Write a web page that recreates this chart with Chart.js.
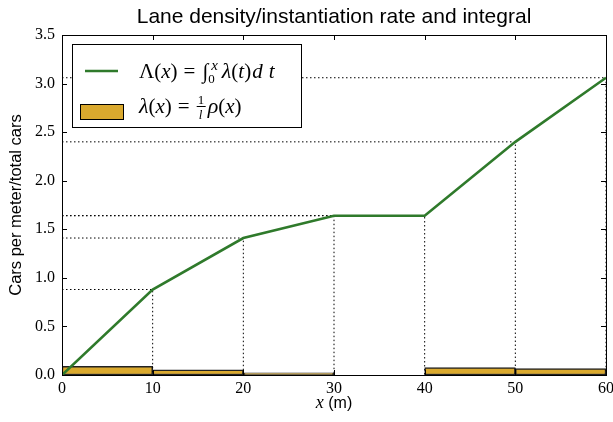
<!DOCTYPE html>
<html>
<head>
<meta charset="utf-8">
<script src="https://cdn.jsdelivr.net/npm/chart.js@4.4.1/dist/chart.umd.min.js"></script>
<style>
  html, body { margin: 0; padding: 0; background: #fff; }
</style>
</head>
<body>
<canvas id="chart" width="613" height="422"></canvas>
<script>
// integral curve, sampled at the bin edges
const xEdges = [0, 10, 20, 30, 40, 50, 60];
const integral = [0, 0.88, 1.41, 1.64, 1.64, 2.40, 3.06];
// per-bin rate (bars), centred in each 10 m bin
const binCenters = [5, 15, 25, 35, 45, 55];
const rate = [0.088, 0.053, 0.023, 0, 0.076, 0.066];
const xTicks = [0, 10, 20, 30, 40, 50, 60];
const yTicks = [0, 0.5, 1.0, 1.5, 2.0, 2.5, 3.0, 3.5];
const titleText = 'Lane density/instantiation rate and integral';
const yTitle = 'Cars per meter/total cars';

const green = '#2f7a2b';
const gold = '#daa92e';
const serif = '"Liberation Serif", "DejaVu Serif", serif';
const sans = '"Liberation Sans", Arial, sans-serif';

// dotted guide lines from each integral point back to both axes
const guides = xEdges.map((x, i) => ({
    type: 'line',
    data: [{ x: 0, y: integral[i] }, { x: x, y: integral[i] }, { x: x, y: 0 }],
    borderColor: '#000',
    borderWidth: 1,
    borderDash: [1.5, 2.5],
    pointRadius: 0,
    fill: false,
    tension: 0
})).filter((d, i) => xEdges[i] > 0);

// draw a row of text pieces with mixed italic/size
function drawRuns(ctx, x, y, runs) {
    for (const r of runs) {
        x += r.dx || 0;
        ctx.font = (r.it ? 'italic ' : '') + r.size + 'px ' + (r.font || serif);
        ctx.fillText(r.t, x, y + (r.dy || 0));
        if (r.adv !== false) x += ctx.measureText(r.t).width;
    }
    return x;
}

const decorations = {
    id: 'decorations',
    afterDatasetsDraw(chart) {
        const ctx = chart.ctx;
        const a = chart.chartArea;
        const xs = chart.scales.x, ys = chart.scales.y;
        ctx.save();
        ctx.strokeStyle = '#000';
        ctx.lineWidth = 1;

        // inward tick marks on all four sides
        ctx.beginPath();
        xTicks.forEach(v => {
            const p = Math.round(xs.getPixelForValue(v)) + 0.5;
            ctx.moveTo(p, a.bottom); ctx.lineTo(p, a.bottom - 5);
            ctx.moveTo(p, a.top); ctx.lineTo(p, a.top + 5);
        });
        yTicks.forEach(v => {
            const p = Math.round(ys.getPixelForValue(v)) + 0.5;
            ctx.moveTo(a.left, p); ctx.lineTo(a.left + 5, p);
            ctx.moveTo(a.right, p); ctx.lineTo(a.right - 5, p);
        });
        ctx.stroke();

        // frame
        ctx.strokeRect(Math.round(a.left) + 0.5, Math.round(a.top) + 0.5,
            Math.round(a.right - a.left), Math.round(a.bottom - a.top));

        // legend box
        const lx = 72, ly = 44, lw = 229, lh = 83;
        ctx.fillStyle = '#fff';
        ctx.fillRect(lx, ly, lw, lh);
        ctx.strokeRect(lx + 0.5, ly + 0.5, lw, lh);

        ctx.strokeStyle = green;
        ctx.lineWidth = 2.5;
        ctx.beginPath();
        ctx.moveTo(85, 71); ctx.lineTo(118, 71);
        ctx.stroke();

        ctx.fillStyle = gold;
        ctx.fillRect(80, 104, 43, 15);
        ctx.strokeStyle = '#000';
        ctx.lineWidth = 1;
        ctx.strokeRect(80.5, 104.5, 43, 15);

        ctx.fillStyle = '#000';
        ctx.textAlign = 'left';
        ctx.textBaseline = 'alphabetic';
        drawRuns(ctx, 139, 78, [
            { t: '\u039B(', size: 21 },
            { t: 'x', it: true, size: 21 },
            { t: ')', size: 21 },
            { t: '=', size: 21, dx: 6 },
            { t: '\u222B', size: 21, dx: 7 },
            { t: '0', size: 13, dy: 5, adv: false },
            { t: 'x', it: true, size: 15, dx: 3, dy: -8 },
            { t: '\u03BB', it: true, size: 22, dx: 4 },
            { t: '(', size: 21 },
            { t: 't', it: true, size: 21 },
            { t: ')', size: 21 },
            { t: 'd', it: true, size: 21, dx: 1 },
            { t: 't', it: true, size: 21, dx: 6 }
        ]);

        let fx = drawRuns(ctx, 139, 113, [
            { t: '\u03BB', it: true, size: 22 },
            { t: '(', size: 21 },
            { t: 'x', it: true, size: 21 },
            { t: ')', size: 21 },
            { t: '=', size: 21, dx: 6 }
        ]) + 7;
        // little fraction 1/l
        ctx.font = '13px ' + serif;
        ctx.fillText('1', fx + 1, 104);
        ctx.font = 'italic 13px ' + serif;
        ctx.fillText('l', fx + 2, 119);
        ctx.fillRect(fx, 106, 9, 1);
        drawRuns(ctx, fx + 11, 113, [
            { t: '\u03C1', it: true, size: 22 },
            { t: '(', size: 21 },
            { t: 'x', it: true, size: 21 },
            { t: ')', size: 21 }
        ]);

        const cx = (a.left + a.right) / 2;

        // title, centred over the axes
        ctx.textAlign = 'center';
        ctx.font = '21px ' + sans;
        ctx.fillText(titleText, cx, 23);

        // x axis title
        ctx.textAlign = 'left';
        ctx.font = 'italic 18px ' + serif;
        const w1 = ctx.measureText('x').width;
        ctx.font = '16px ' + sans;
        const w2 = ctx.measureText(' (m)').width;
        drawRuns(ctx, cx - (w1 + w2) / 2, 408, [
            { t: 'x', it: true, size: 18 },
            { t: ' (m)', size: 16, font: sans }
        ]);

        // y axis title
        ctx.translate(16, (a.top + a.bottom) / 2);
        ctx.rotate(-Math.PI / 2);
        ctx.textAlign = 'center';
        ctx.textBaseline = 'middle';
        ctx.font = '16.5px ' + sans;
        ctx.fillText(yTitle, 0, 0);
        ctx.restore();
    }
};

const ctx = document.getElementById('chart').getContext('2d');

new Chart(ctx, {
    type: 'line',
    data: {
        datasets: [
            {
                label: '\u039B(x)',
                data: xEdges.map((x, i) => ({ x: x, y: integral[i] })),
                borderColor: green,
                borderWidth: 2.6,
                pointRadius: 0,
                fill: false,
                tension: 0
            },
            ...guides,
            {
                type: 'bar',
                label: '\u03BB(x)',
                data: binCenters.map((x, i) => ({ x: x, y: rate[i] })),
                backgroundColor: gold,
                borderColor: '#222',
                borderWidth: 1.5,
                borderSkipped: false,
                barPercentage: 1,
                categoryPercentage: 1
            }
        ]
    },
    options: {
        responsive: false,
        animation: false,
        devicePixelRatio: 1,
        layout: { padding: { left: 0, right: 7, top: 35, bottom: 0 } },
        plugins: {
            legend: { display: false },
            tooltip: { enabled: false },
            title: { display: false }
        },
        scales: {
            x: {
                type: 'linear',
                min: 0,
                max: 60,
                offset: false,
                grid: { display: false, drawTicks: false },
                border: { display: false },
                afterFit: s => { s.height = 47; s.paddingLeft = 0; s.paddingRight = 0; },
                afterBuildTicks: s => { s.ticks = xTicks.map(v => ({ value: v })); },
                ticks: {
                    color: '#000',
                    padding: 4,
                    maxRotation: 0,
                    font: { family: serif, size: 16 },
                    callback: v => String(v)
                }
            },
            y: {
                type: 'linear',
                min: 0,
                max: 3.5,
                grid: { display: false, drawTicks: false },
                border: { display: false },
                afterFit: s => { s.width = 62; s.paddingTop = 0; s.paddingBottom = 0; },
                afterBuildTicks: s => { s.ticks = yTicks.map(v => ({ value: v })); },
                ticks: {
                    color: '#000',
                    padding: 7,
                    font: { family: serif, size: 16 },
                    callback: v => Number(v).toFixed(1)
                }
            }
        }
    },
    plugins: [decorations]
});
</script>
</body>
</html>
